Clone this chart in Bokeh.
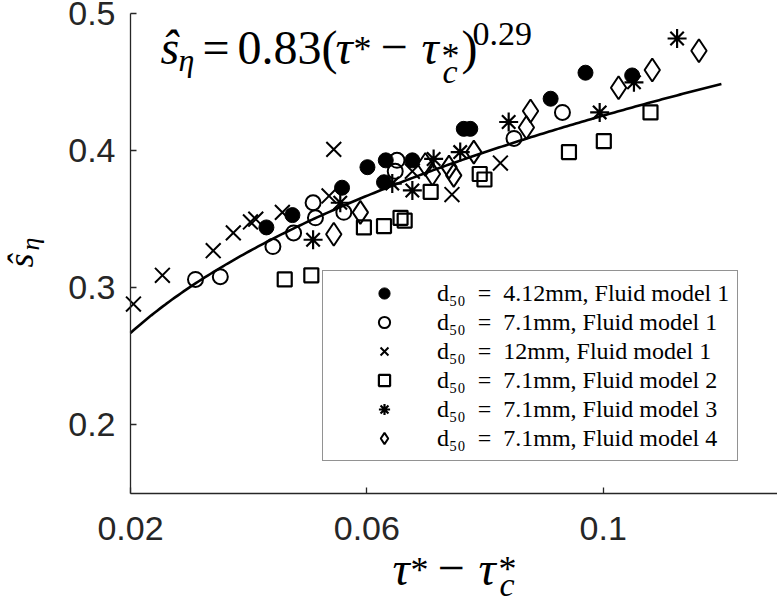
import math
import numpy as np
from bokeh.plotting import figure
from bokeh.models import Range1d, FixedTicker, Label, Legend, LegendItem
from bokeh.embed import file_html
from bokeh.resources import INLINE

# ---- measurements: tau* - tau_c* (x) against s_eta hat (y) ----
# d50 = 4.12 mm, fluid model 1
fm1_d412_x = [0.0430, 0.0474, 0.0558, 0.0601, 0.0629, 0.0632, 0.0677, 0.0764, 0.0775, 0.0911, 0.0970, 0.1049]
fm1_d412_y = [0.344, 0.353, 0.373, 0.388, 0.377, 0.393, 0.393, 0.416, 0.416, 0.438, 0.457, 0.455]

# d50 = 7.1 mm, fluid model 1
fm1_d71_x = [0.0310, 0.0352, 0.0441, 0.0476, 0.0509, 0.0513, 0.0561, 0.0648, 0.0651, 0.0849, 0.0931]
fm1_d71_y = [0.306, 0.308, 0.330, 0.340, 0.362, 0.351, 0.355, 0.385, 0.393, 0.409, 0.428]

# d50 = 12 mm, fluid model 1
fm1_d12_x = [0.0205, 0.0254, 0.0340, 0.0374, 0.0403, 0.0412, 0.0457, 0.0536, 0.0544, 0.0677, 0.0744, 0.0826]
fm1_d12_y = [0.288, 0.309, 0.327, 0.340, 0.348, 0.350, 0.355, 0.367, 0.401, 0.385, 0.368, 0.391]

# d50 = 7.1 mm, fluid model 2
fm2_x = [0.0461, 0.0506, 0.0595, 0.0629, 0.0657, 0.0664, 0.0708, 0.0791, 0.0799, 0.0942, 0.1001, 0.1080]
fm2_y = [0.306, 0.309, 0.344, 0.345, 0.351, 0.349, 0.370, 0.383, 0.379, 0.399, 0.407, 0.428]

# d50 = 7.1 mm, fluid model 3
fm3_x = [0.0509, 0.0555, 0.0643, 0.0677, 0.0713, 0.0758, 0.0840, 0.0994, 0.1052, 0.1125]
fm3_y = [0.335, 0.362, 0.376, 0.371, 0.394, 0.399, 0.421, 0.428, 0.450, 0.482]

# d50 = 7.1 mm, fluid model 4
fm4_x = [0.0544, 0.0589, 0.0699, 0.0711, 0.0739, 0.0747, 0.0781, 0.0870, 0.0877, 0.1026, 0.1083, 0.1162]
fm4_y = [0.339, 0.355, 0.390, 0.383, 0.388, 0.382, 0.399, 0.417, 0.429, 0.446, 0.459, 0.473]

SP = "\u2002"  # en space, mimics math spacing around "="
series_labels = [
    f"d\u2085\u2080{SP}={SP}4.12mm, Fluid model 1",
    f"d\u2085\u2080{SP}={SP}7.1mm, Fluid model 1",
    f"d\u2085\u2080{SP}={SP}12mm, Fluid model 1",
    f"d\u2085\u2080{SP}={SP}7.1mm, Fluid model 2",
    f"d\u2085\u2080{SP}={SP}7.1mm, Fluid model 3",
    f"d\u2085\u2080{SP}={SP}7.1mm, Fluid model 4",
]

# power-law fit  s_eta = A (tau* - tau_c*)^B
FIT_A = 0.83
FIT_B = 0.29
fit_x_range = [0.02, 0.12]

x_ticks = [0.02, 0.06, 0.1]
x_tick_labels = ["0.02", "0.06", "0.1"]
y_ticks = [0.2, 0.3, 0.4, 0.5]
y_tick_labels = ["0.2", "0.3", "0.4", "0.5"]

# axis extents (where the axis lines run)
X_AXIS_LO, X_AXIS_HI = 0.02, 0.1295
Y_AXIS_LO, Y_AXIS_HI = 0.15, 0.5

# ---- figure geometry: the plotting frame fills the canvas, axes sit at fixed locations ----
W, H = 777, 603
AX_LEFT_PX, AX_BOTTOM_PX = 130.0, 492.5      # where the two axis lines cross
PX_PER_X, PX_PER_Y = 5909.0, 1369.0
X_LO = X_AXIS_LO - AX_LEFT_PX / PX_PER_X
X_HI = X_AXIS_LO + (W - AX_LEFT_PX) / PX_PER_X
Y_LO = Y_AXIS_LO - (H - AX_BOTTOM_PX) / PX_PER_Y
Y_HI = Y_AXIS_LO + AX_BOTTOM_PX / PX_PER_Y
INK = "#262626"

p = figure(width=W, height=H,
           x_range=Range1d(X_LO, X_HI), y_range=Range1d(Y_LO, Y_HI),
           output_backend="svg", toolbar_location=None,
           min_border=0)
p.outline_line_color = None
p.grid.visible = False
p.background_fill_color = "white"
p.border_fill_color = "white"

for ax, ticks, labels, standoff, loc, bounds in (
        (p.xaxis[0], x_ticks, x_tick_labels, 24, Y_AXIS_LO, (X_AXIS_LO, X_AXIS_HI)),
        (p.yaxis[0], y_ticks, y_tick_labels, 15, X_AXIS_LO, (Y_AXIS_LO, Y_AXIS_HI))):
    ax.fixed_location = loc
    ax.bounds = bounds
    ax.ticker = FixedTicker(ticks=ticks)
    ax.major_label_overrides = dict(zip(ticks, labels))
    ax.axis_line_color = INK
    ax.axis_line_width = 1.3
    ax.major_tick_line_color = INK
    ax.major_tick_line_width = 1.3
    ax.major_tick_in = 6
    ax.major_tick_out = 0
    ax.minor_tick_line_color = None
    ax.major_label_text_font = "Liberation Sans"
    ax.major_label_text_font_size = "34px"
    ax.major_label_text_color = INK
    ax.major_label_standoff = standoff

# ---- fitted curve ----
fx = np.linspace(fit_x_range[0], fit_x_range[1], 200)
fy = FIT_A * fx ** FIT_B
p.line(fx, fy, line_color="black", line_width=2.6)

# ---- data series ----
r1 = p.scatter(fm1_d412_x, fm1_d412_y, marker="circle", size=15,
               fill_color="black", line_color="black", line_width=1)
r2 = p.scatter(fm1_d71_x, fm1_d71_y, marker="circle", size=15,
               fill_color=None, line_color="black", line_width=2)
r3 = p.scatter(fm1_d12_x, fm1_d12_y, marker="x", size=21,
               line_color="black", line_width=2)
r4 = p.scatter(fm2_x, fm2_y, marker="square", size=14,
               fill_color=None, line_color="black", line_width=2.2)
r5 = p.scatter(fm3_x, fm3_y, marker="asterisk", size=19,
               line_color="black", line_width=2.2)
r6 = p.scatter(fm4_x, fm4_y, marker="diamond", size=23,
               fill_color=None, line_color="black", line_width=2)

legend = Legend(items=[LegendItem(label=lab, renderers=[r])
                       for lab, r in zip(series_labels, [r1, r2, r3, r4, r5, r6])],
                location=(322, 142))
legend.label_text_font = "Liberation Serif"
legend.label_text_font_size = "24px"
legend.label_text_color = "black"
legend.padding = 8
legend.margin = 0
legend.spacing = 1
legend.glyph_width = 106
legend.glyph_height = 28
legend.label_height = 28
legend.label_standoff = 0
legend.border_line_color = INK
legend.border_line_width = 1.4
legend.background_fill_color = "white"
legend.background_fill_alpha = 1.0
p.add_layout(legend)


# ---- math-style texts, built from pieces ----
# Labels are anchored at the centre of their ascent/descent box; the
# alphabetic baseline sits BASE_SHIFT * font size below that centre.
BASE_SHIFT = 0.338


def px_to_data(px, py):
    return (X_LO + px / PX_PER_X, Y_HI - py / PX_PER_Y)


def put(text, px, py, size, style="normal", angle=0.0):
    """Place `text` so that its baseline starts at pixel (px, py)."""
    shift = BASE_SHIFT * size
    if angle:
        px -= shift          # rotated upright text: baseline lies to the right
    else:
        py -= shift
    x, y = px_to_data(px, py)
    p.add_layout(Label(x=x, y=y, text=text, text_font="Liberation Serif",
                       text_font_size=f"{size}px", text_font_style=style,
                       text_color="black", text_align="left",
                       text_baseline="alphabetic", angle=angle))


def tau_difference(x0, base, sub_drop=19, sup_drop=5):
    """Draw  tau* - tau_c*  starting at pixel x0 on baseline `base`."""
    put("\u03c4", x0, base, 48, "italic")
    put("*", x0 + 18, base - 2, 36)
    put("\u2212", x0 + 45, base, 48)
    put("\u03c4", x0 + 86, base, 48, "italic")
    put("c", x0 + 107, base + sub_drop, 34, "italic")
    put("*", x0 + 106, base + sup_drop, 36)


# fit equation in the upper-left corner
put("\u015d", 160, 63, 48, "italic")
put("\u03b7", 178, 70, 32, "italic")
put("=", 202, 63, 48)
put(f"{FIT_A:.2f}(", 237, 63, 48)
tau_difference(335, 63)
put(")", 461, 63, 48)
put(f"{FIT_B:.2f}", 472, 45, 34)

# x-axis title
tau_difference(392, 584, sub_drop=11, sup_drop=-3)

# y-axis title (rotated)
put("\u015d", 33, 267, 36, "italic", angle=math.pi / 2)
put("\u03b7", 39, 250, 26, "italic", angle=math.pi / 2)

open("out.html", "w").write(file_html(p, INLINE))
